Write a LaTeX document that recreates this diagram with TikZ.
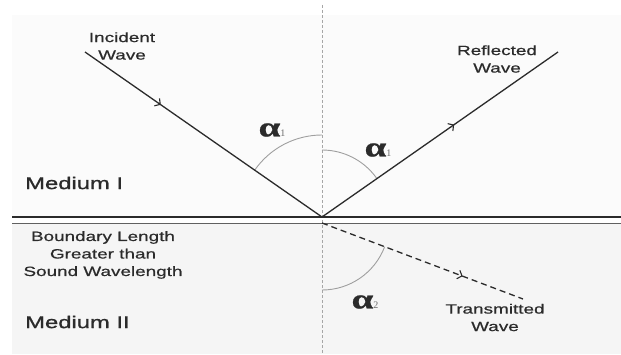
\documentclass[tikz,border=0pt]{standalone}
\usepackage{fontspec}
\usetikzlibrary{arrows.meta,decorations.markings}
\newfontfamily\lblfont[FakeStretch=1.4,FakeBold=0.6]{Liberation Sans}
\newfontfamily\medfont[FakeStretch=1.4,FakeBold=1.2]{Liberation Sans}
\newfontfamily\greekfont[FakeStretch=1.4,FakeBold=0.8]{Liberation Serif}
\newfontfamily\subfont{Liberation Serif}
\newcommand{\angsym}[1]{{\greekfont\bfseries\fontsize{28}{28}\selectfont α}{\subfont\fontsize{10}{10}\selectfont\color{ink!70}#1}}
\definecolor{ink}{HTML}{2B2B2B}
\tikzset{
  wave/.style={draw=ink, line width=1.3pt},
  tlabel/.style={font=\lblfont\fontsize{13.5}{17.5}\selectfont, text=ink, align=center, inner sep=0pt},
  medlabel/.style={font=\medfont\fontsize{17}{20}\selectfont, text=ink, anchor=west, inner sep=0pt},
  anglab/.style={text=ink, inner sep=0pt},
  anglearc/.style={draw=gray!75, line width=0.9pt},
  midarrow/.style={postaction={decorate}, decoration={markings,
      mark=at position #1 with {\arrow{Straight Barb[length=4pt,width=9pt,line width=1.1pt]}}}}
}
\begin{document}
\begin{tikzpicture}[x=1pt,y=1pt]
\useasboundingbox (0,0) rectangle (621,354);
\fill[white] (0,0) rectangle (621,354);
% media
\fill[gray!3] (12,339) rectangle (621,137);
\fill[gray!8] (12,0) rectangle (621,131);
% key points
\coordinate (V) at (322,137);
\coordinate (V2) at (322,131);
\coordinate (I0) at (85,302);
\coordinate (R1) at (558,302);
\coordinate (T1) at (523,55);
\coordinate (Ntop) at (322,349);
\coordinate (Nbot) at (322,0);
\coordinate (BL) at (12,137);
\coordinate (BR) at (621,137);
\coordinate (BL2) at (12,130.5);
\coordinate (BR2) at (621,130.5);
% normal
\draw[gray!70, line width=0.7pt, dash pattern=on 3pt off 2pt] (Ntop) -- (Nbot);
% boundary
\draw[ink, line width=2.2pt] (BL) -- (BR);
\draw[ink!75, line width=1.4pt] (BL2) -- (BR2);
% angle arcs
\draw[anglearc] (V) ++(90:82) arc[start angle=90, end angle=145.2, radius=82];
\draw[anglearc] (V) ++(90:67) arc[start angle=90, end angle=35, radius=67];
\draw[anglearc] (V2) ++(-90:67) arc[start angle=-90, end angle=-20.7, radius=67];
% waves
\draw[wave, midarrow=0.32] (I0) -- (V);
\draw[wave, midarrow=0.56] (V) -- (R1);
\draw[wave, dash pattern=on 6pt off 4pt, midarrow=0.70] (V2) -- (T1);
% labels
\node[tlabel] (inc) at (122,308) {Incident\\Wave};
\node[tlabel] (ref) at (497,295) {Reflected\\Wave};
\node[tlabel] (tra) at (495,36.5) {Transmitted\\Wave};
\node[tlabel] (bnd) at (103,99) {Boundary Length\\Greater than\\Sound Wavelength};
\node[medlabel] (m1) at (25,171) {Medium I};
\node[medlabel] (m2) at (25,32) {Medium II};
\node[anglab] (a1l) at (272,224) {\angsym{1}};
\node[anglab] (a1r) at (378,204) {\angsym{1}};
\node[anglab] (a2) at (365,52) {\angsym{2}};
\end{tikzpicture}
\end{document}
